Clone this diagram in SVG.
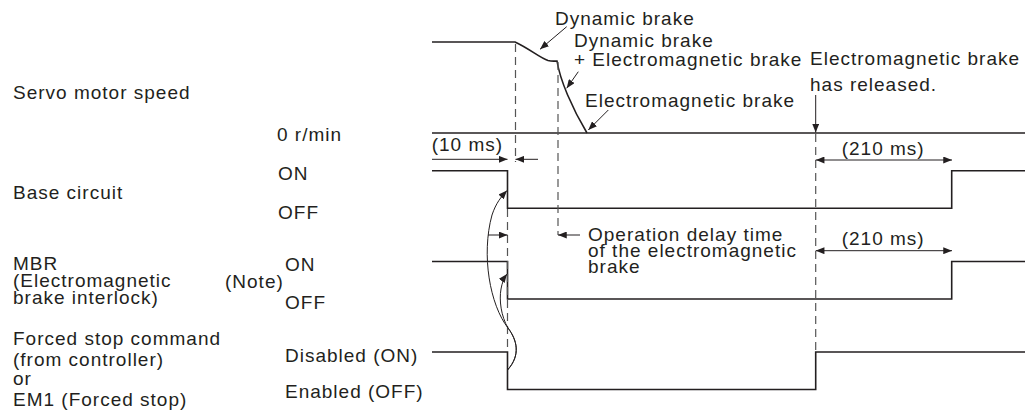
<svg xmlns="http://www.w3.org/2000/svg" width="1025" height="412" viewBox="0 0 1025 412">
<style>
.t{font-family:"Liberation Sans",Arial,sans-serif;font-size:19px;letter-spacing:1px;fill:#231f20}
.sig{stroke:#231f20;stroke-width:1.6;fill:none}
.thin{stroke:#231f20;stroke-width:1;fill:none}
.dash{stroke:#555;stroke-width:1.2;stroke-dasharray:8 5;fill:none}
</style>
<defs>
<marker id="ah" viewBox="0 0 10 8" refX="10" refY="4" markerUnits="userSpaceOnUse" markerWidth="9" markerHeight="7" orient="auto-start-reverse">
<path d="M0,0 L10,4 L0,8 z" fill="#231f20"/>
</marker>
</defs>
<rect width="1025" height="412" fill="#fff"/>

<g id="speed">
<text class="t" x="13" y="99">Servo motor speed</text>
<text class="t" x="277" y="141">0 r/min</text>
<path class="sig" d="M432,42 L515,42 C530,49 540,58 548,60.5 Q552,61.5 557,61 C560,80 572,108 587,133"/>
<path class="sig" d="M432,133 L1025,133"/>
<text class="t" x="555" y="25">Dynamic brake</text>
<text class="t" x="574" y="46.5">Dynamic brake</text>
<text class="t" x="574" y="66">+ Electromagnetic brake</text>
<text class="t" x="585" y="107">Electromagnetic brake</text>
<text class="t" x="810" y="65">Electromagnetic brake</text>
<text class="t" x="810" y="90.5">has released.</text>
</g>

<g id="base">
<text class="t" x="13" y="199">Base circuit</text>
<text class="t" x="278" y="180">ON</text>
<text class="t" x="278" y="219">OFF</text>
<path class="sig" d="M432,170.7 L507.5,170.7 L507.5,208.3 L951.7,208.3 L951.7,170.7 L1025,170.7"/>
<text class="t" x="431.7" y="151">(10 ms)</text>
<text class="t" x="841.7" y="155">(210 ms)</text>
</g>

<g id="mbr">
<text class="t" x="13" y="270">MBR</text>
<text class="t" x="13" y="287">(Electromagnetic</text>
<text class="t" x="13" y="304">brake interlock)</text>
<text class="t" x="225" y="288">(Note)</text>
<text class="t" x="285" y="271">ON</text>
<text class="t" x="285" y="309">OFF</text>
<path class="sig" d="M432,261.5 L507.5,261.5 L507.5,299 L951.7,299 L951.7,261.5 L1025,261.5"/>
<text class="t" x="588" y="241">Operation delay time</text>
<text class="t" x="588" y="257">of the electromagnetic</text>
<text class="t" x="588" y="273">brake</text>
<text class="t" x="841.7" y="245">(210 ms)</text>
</g>

<g id="forced">
<text class="t" x="13" y="345">Forced stop command</text>
<text class="t" x="13" y="366">(from controller)</text>
<text class="t" x="13" y="385">or</text>
<text class="t" x="13" y="406">EM1 (Forced stop)</text>
<text class="t" x="285" y="362">Disabled (ON)</text>
<text class="t" x="285" y="398">Enabled (OFF)</text>
<path class="sig" d="M432,352 L507.5,352 L507.5,389.5 L815.7,389.5 L815.7,352 L1025,352"/>
</g>

<g id="connectors">
<path class="dash" d="M515.5,44 L515.5,162"/>
<path class="dash" d="M507.5,209 L507.5,352"/>
<path class="dash" d="M558,62 L558,235"/>
<path class="dash" d="M815.7,134 L815.7,352"/>
<path class="thin" d="M432,159.3 L507.5,159.3" marker-end="url(#ah)"/>
<path class="thin" d="M538,159.3 L515.5,159.3" marker-end="url(#ah)"/>
<path class="thin" d="M488,235 L507.5,235" marker-end="url(#ah)"/>
<path class="thin" d="M580,235 L558,235" marker-end="url(#ah)"/>
<path class="thin" d="M815.7,160 L952,160" marker-start="url(#ah)" marker-end="url(#ah)"/>
<path class="thin" d="M815.7,250.7 L952,250.7" marker-start="url(#ah)" marker-end="url(#ah)"/>
<path class="thin" d="M815.7,95 L815.7,132.5" marker-end="url(#ah)"/>
<path class="thin" d="M566.7,26.7 L540,49.3" marker-end="url(#ah)"/>
<path class="thin" d="M578.3,71.7 L566.7,88.3" marker-end="url(#ah)"/>
<path class="thin" d="M608.3,110 L588.3,130" marker-end="url(#ah)"/>
<path class="thin" d="M507.5,370 C521,355 517,340 508,328 C490,305 481,255 492,215 C496,203 501,197 507,190.5" marker-end="url(#ah)"/>
<path class="thin" d="M507.5,370 C521,355 517,340 508,328 C501,316 499,300 501,289 C502,283 504,278 507,274" marker-end="url(#ah)"/>
</g>
</svg>
